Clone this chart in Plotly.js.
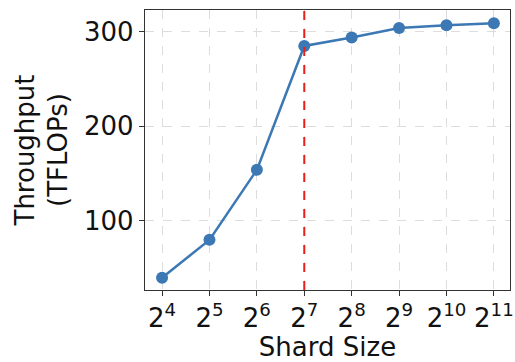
<!DOCTYPE html>
<html><head><meta charset="utf-8">
<script src="https://cdn.plot.ly/plotly-3.0.1.min.js"></script>
<style>html,body{margin:0;padding:0;background:#fff;}#chart{width:515px;height:362px;}</style>
</head><body><div id="chart"></div>
<script>
var shardSizes = [16, 32, 64, 128, 256, 512, 1024, 2048];
var throughput = [40, 80, 154, 285, 294, 304, 307, 309];
var tickLabels = ["2<sup>4</sup>","2<sup>5</sup>","2<sup>6</sup>","2<sup>7</sup>","2<sup>8</sup>","2<sup>9</sup>","2<sup>10</sup>","2<sup>11</sup>"];
var markerShard = 128;

var trace = {
  x: shardSizes, y: throughput, type: 'scatter', mode: 'lines+markers',
  line: {color: '#3b78b4', width: 2.5},
  marker: {color: '#3b78b4', size: 12},
  hoverinfo: 'none'
};
var layout = {
  width: 515, height: 362,
  margin: {l: 145, r: 5, t: 10, b: 72},
  paper_bgcolor: '#fff', plot_bgcolor: '#fff',
  font: {family: 'DejaVu Sans', size: 26, color: '#111'},
  showlegend: false,
  xaxis: {
    type: 'log', range: [Math.log10(2)*3.64, Math.log10(2)*11.34],
    tickvals: shardSizes, ticktext: tickLabels,
    showgrid: true, gridcolor: '#dddddd', griddash: 'dash', gridwidth: 1,
    ticks: 'outside', ticklen: 5, tickcolor: '#333', tickwidth: 1,
    showline: true, linecolor: '#333', linewidth: 1.2, mirror: true,
    zeroline: false, automargin: false,
    tickfont: {size: 26},
    title: {text: 'Shard Size', font: {size: 26}, standoff: 5}
  },
  yaxis: {
    range: [27, 323],
    tickvals: [100, 200, 300],
    showgrid: true, gridcolor: '#dddddd', griddash: 'dash', gridwidth: 1,
    ticks: 'outside', ticklen: 5, tickcolor: '#333', tickwidth: 1,
    showline: true, linecolor: '#333', linewidth: 1.2, mirror: true,
    zeroline: false, automargin: false,
    tickfont: {size: 26},
    title: {text: 'Throughput<br>(TFLOPs)', font: {size: 26}, standoff: 8}
  },
  shapes: [{
    type: 'line', xref: 'x', yref: 'paper', x0: markerShard, x1: markerShard, y0: 0, y1: 1,
    line: {color: '#e8201a', width: 2, dash: 'dash'}, layer: 'above'
  }]
};
Plotly.newPlot('chart', [trace], layout, {staticPlot: true, displayModeBar: false});
</script>
</body></html>
